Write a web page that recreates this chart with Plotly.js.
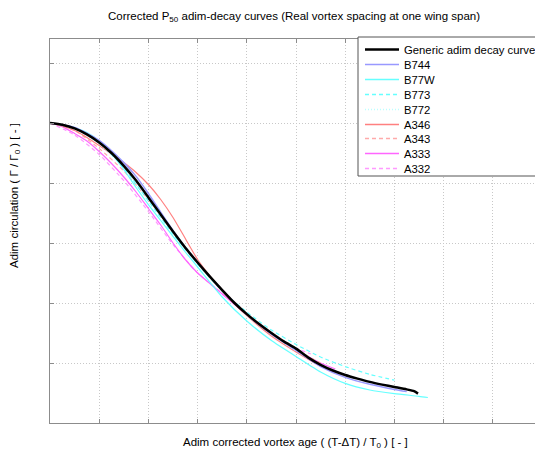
<!DOCTYPE html>
<html>
<head>
<meta charset="utf-8">
<script src="https://cdn.plot.ly/plotly-3.0.1.min.js"></script>
<style>
html,body{margin:0;padding:0;overflow:hidden;background:#fff;}
#chart{width:550px;height:455px;}
</style>
</head>
<body>
<div id="chart"></div>
<script>
// Data
const genericX = [0,0.25,0.5,0.75,1.0,1.25,1.5,1.75,2.0,2.25,2.5,2.75,3.0,3.25,3.5,3.75,4.0,4.25,4.5,4.75,5.0,5.25,5.5,5.75,6.0,6.25,6.5,6.75,7.0,7.25,7.4,7.48];
const genericY = [1.0,0.994,0.982,0.962,0.935,0.900,0.857,0.808,0.752,0.695,0.638,0.584,0.535,0.488,0.443,0.400,0.363,0.330,0.300,0.272,0.248,0.218,0.194,0.175,0.160,0.148,0.137,0.128,0.120,0.112,0.106,0.098];

const b744X = [0,0.5,1.0,1.5,1.75,2.0,2.25,2.5,2.75,3.0,3.5,4.0,4.5,5.0,5.5,6.0,6.5,7.0,7.25];
const b744Y = [1.0,0.985,0.942,0.868,0.822,0.765,0.703,0.642,0.585,0.535,0.443,0.362,0.296,0.242,0.188,0.152,0.129,0.112,0.105];

const b77wX = [0,0.25,0.5,0.75,1.0,1.25,1.5,1.75,2.0,2.25,2.5,2.75,3.0,3.5,4.0,4.5,5.0,5.5,6.0,6.5,7.0,7.5,7.68];
const b77wY = [1.0,0.995,0.985,0.968,0.940,0.900,0.845,0.785,0.728,0.675,0.622,0.570,0.520,0.420,0.340,0.275,0.222,0.170,0.132,0.110,0.098,0.089,0.085];

const b773X = [0,0.5,1.0,1.5,2.0,2.5,3.0,3.5,4.0,4.5,5.0,5.5,6.0,6.5,7.0];
const b773Y = [1.0,0.983,0.935,0.850,0.740,0.630,0.530,0.440,0.370,0.310,0.262,0.220,0.188,0.162,0.143];

const b772X = [0,0.5,1.0,1.5,2.0,2.5,3.0,3.5,4.0,4.5,5.0,5.5,6.0];
const b772Y = [1.0,0.980,0.930,0.850,0.745,0.640,0.535,0.440,0.360,0.295,0.240,0.193,0.160];

const a346X = [0,0.25,0.5,0.75,1.0,1.25,1.5,1.75,2.0,2.25,2.5,2.75,3.0,3.25,3.5,3.75,4.0,4.5,5.0,5.5,5.8];
const a346Y = [1.0,0.990,0.975,0.952,0.925,0.897,0.868,0.835,0.795,0.745,0.685,0.615,0.545,0.490,0.440,0.397,0.358,0.290,0.237,0.190,0.170];

const a343X = [0,0.5,1.0,1.5,2.0,2.5,3.0,3.5,4.0,4.5,5.0,5.5];
const a343Y = [1.0,0.975,0.915,0.840,0.745,0.640,0.535,0.445,0.365,0.300,0.245,0.200];

const a333X = [0,0.25,0.5,0.75,1.0,1.25,1.5,1.75,2.0,2.25,2.5,2.75,3.0,3.25,3.5,4.0,4.5,5.0,5.5,5.8];
const a333Y = [1.0,0.988,0.965,0.940,0.905,0.865,0.820,0.770,0.715,0.660,0.600,0.545,0.500,0.465,0.430,0.360,0.298,0.245,0.200,0.180];

const a332X = [0,0.5,1.0,1.5,2.0,2.5,3.0,3.5,4.0,4.5,5.0,5.3];
const a332Y = [1.0,0.960,0.895,0.808,0.705,0.595,0.500,0.432,0.362,0.300,0.250,0.230];

const names = ["Generic adim decay curve","B744","B77W","B773","B772","A346","A343","A333","A332"];
const seriesX = [genericX, b744X, b77wX, b773X, b772X, a346X, a343X, a333X, a332X];
const seriesY = [genericY, b744Y, b77wY, b773Y, b772Y, a346Y, a343Y, a333Y, a332Y];

// styles (legend order)
const colors = ['#000000','#9999ff','#66ffff','#66ffff','#bbffff','#ff8080','#ffaaaa','#ff66ff','#ff99ff'];
const dashes = ['solid','solid','solid','4px,3px','1px,2px','solid','4px,3px','solid','4px,3px'];
const widths = [2.5,1.5,1.2,1.2,1.2,1.2,1.2,1.2,1.2];

const data = [];
for (let i = names.length - 1; i >= 0; i--) {
  data.push({x: seriesX[i], y: seriesY[i], name: names[i], type: 'scatter', mode: 'lines',
    line: {color: colors[i], dash: dashes[i], width: widths[i], shape: 'spline', smoothing: 0.6},
    showlegend: false, hoverinfo: 'skip'});
}

const fontFam = 'Liberation Sans, Arial, sans-serif';
const axisCommon = {
  showgrid: true, gridcolor: '#c8c8c8', griddash: '1px,2px', gridwidth: 1,
  showline: true, linecolor: '#8c8c8c', linewidth: 1, mirror: 'ticks',
  ticks: 'inside', ticklen: 4, tickcolor: '#8c8c8c',
  showticklabels: false, zeroline: false, fixedrange: true
};

// plot-area geometry in pixels (for legend placement in paper coords)
const L = 50, R = 8, T = 39, B = 32, W = 550, H = 455;
const pw = W - L - R, ph = H - T - B;
const px = v => (v - L) / pw;
const py = v => (H - B - v) / ph;

const shapes = [];
const annotations = [];
// legend box
shapes.push({type: 'rect', xref: 'paper', yref: 'paper', layer: 'above',
  x0: px(358), x1: px(560), y0: py(176), y1: py(37),
  line: {color: '#555555', width: 1}, fillcolor: '#ffffff'});
const rowTop = 49, rowStep = 14.9;
for (let i = 0; i < names.length; i++) {
  const yy = Math.round(rowTop + i * rowStep) + 0.5;
  shapes.push({type: 'line', xref: 'paper', yref: 'paper', layer: 'above',
    x0: px(365), x1: px(399), y0: py(yy), y1: py(yy),
    line: {color: colors[i], dash: dashes[i], width: i === 0 ? 2.5 : 1.6}});
  annotations.push({text: names[i], xref: 'paper', yref: 'paper', x: px(402), y: py(yy),
    xanchor: 'left', yanchor: 'middle', showarrow: false,
    font: {family: fontFam, size: 11.3, color: '#000'}});
}
annotations.push({text: 'Adim corrected vortex age ( (T-ΔT) / T<sub>0</sub> ) [ - ]', xref: 'paper', yref: 'paper',
  x: px(295), y: py(443), xanchor: 'center', yanchor: 'middle', showarrow: false,
  font: {family: fontFam, size: 11.5, color: '#000'}});
annotations.push({text: 'Adim circulation ( Γ / Γ<sub>0</sub> ) [ - ]', xref: 'paper', yref: 'paper',
  x: px(15), y: py(196), xanchor: 'center', yanchor: 'middle', textangle: -90, showarrow: false,
  font: {family: fontFam, size: 11.5, color: '#000'}});

const layout = {
  width: W, height: H,
  margin: {l: L, r: R, t: T, b: B},
  paper_bgcolor: '#ffffff', plot_bgcolor: '#ffffff',
  font: {family: fontFam, size: 11, color: '#000'},
  title: {text: 'Corrected P<sub>50</sub> adim-decay curves (Real vortex spacing at one wing span)',
    font: {family: fontFam, size: 11.5, color: '#000'},
    x: 294 / W, xanchor: 'center', y: 1 - 16 / H, yanchor: 'middle', xref: 'container', yref: 'container'},
  xaxis: Object.assign({}, axisCommon, {range: [0, 10], dtick: 1, tick0: 0}),
  yaxis: Object.assign({}, axisCommon, {range: [0, 1.28], dtick: 0.2, tick0: 0}),
  showlegend: false,
  shapes: shapes,
  annotations: annotations
};

Plotly.newPlot('chart', data, layout, {staticPlot: true, displayModeBar: false});
</script>
</body>
</html>
